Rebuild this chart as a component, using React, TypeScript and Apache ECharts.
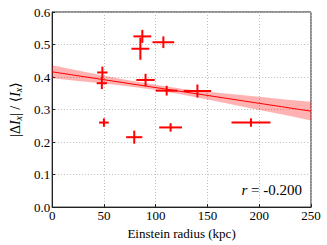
import React, { useEffect, useRef } from "react";
import * as echarts from "echarts";

const xVals = [48.5, 48.0, 50.0, 79.3, 87.1, 85.2, 107.4, 90.2, 110.6, 140.3, 114.4, 192.0];
const yVals = [0.414, 0.381, 0.26, 0.215, 0.525, 0.487, 0.507, 0.391, 0.358, 0.357, 0.245, 0.26];
const xErr = [5, 5, 4.7, 7.8, 8.6, 8.6, 10.5, 8.9, 10.5, 13.3, 11, 18.8];
const yErr = [0.018, 0.018, 0.013, 0.02, 0.02, 0.034, 0.018, 0.019, 0.015, 0.02, 0.013, 0.013];

// Fit line and its confidence band
const fitX = [0, 250];
const fitY = [0.416, 0.295];
const bandX = [0, 25, 50, 75, 100, 125, 150, 175, 200, 225, 250];
const bandLow = [0.396, 0.388, 0.38, 0.371, 0.36, 0.346, 0.331, 0.315, 0.299, 0.283, 0.266];
const bandHigh = [0.436, 0.42, 0.404, 0.389, 0.376, 0.364, 0.355, 0.347, 0.339, 0.331, 0.324];

const xTicks = { min: 0, max: 250, interval: 50 };
const yTicks = { min: 0, max: 0.6, interval: 0.1 };
const rText = "-0.200";

const FONT = "'Liberation Serif', 'DejaVu Serif', serif";

export default function App() {
  const ref = useRef<HTMLDivElement>(null);
  useEffect(() => {
    document.body.style.margin = "0";
    const chart = echarts.init(ref.current!, null, { renderer: "svg" });
    const pts = xVals.map((x, i) => [x, yVals[i], xErr[i], yErr[i]]);
    const option: any = {
      animation: false,
      backgroundColor: "#ffffff",
      textStyle: { fontFamily: FONT },
      grid: { left: 45, right: 16, top: 12, bottom: 35, show: true, borderColor: "#222", borderWidth: 1 },
      xAxis: {
        type: "value",
        min: xTicks.min,
        max: xTicks.max,
        interval: xTicks.interval,
        name: "Einstein radius (kpc)",
        nameLocation: "middle",
        nameGap: 16,
        nameTextStyle: { fontFamily: FONT, fontSize: 13, color: "#000" },
        axisLine: { show: true, lineStyle: { color: "#222", width: 1 } },
        axisTick: { show: true, inside: true, length: 3, lineStyle: { color: "#222" } },
        axisLabel: { fontFamily: FONT, fontSize: 13, color: "#000", margin: 2 },
        splitLine: { show: true, lineStyle: { color: "#bbb", type: [1, 2], width: 1 } },
      },
      yAxis: {
        type: "value",
        min: yTicks.min,
        max: yTicks.max,
        interval: yTicks.interval,
        name: "{a||Δ}{i|I}{s|x}{a|| / ⟨}{i|I}{s|x}{a|⟩}",
        nameLocation: "middle",
        nameGap: 27,
        nameRotate: 90,
        nameTextStyle: {
          fontFamily: FONT,
          fontSize: 14,
          color: "#000",
          rich: {
            a: { fontFamily: FONT, fontSize: 14, color: "#000" },
            i: { fontFamily: FONT, fontSize: 14, fontStyle: "italic", color: "#000" },
            s: { fontFamily: FONT, fontSize: 10, fontStyle: "italic", color: "#000", padding: [6, 0, 0, 0] },
          },
        },
        axisLine: { show: true, lineStyle: { color: "#222", width: 1 } },
        axisTick: { show: true, inside: true, length: 3, lineStyle: { color: "#222" } },
        axisLabel: { fontFamily: FONT, fontSize: 13, color: "#000", margin: 2, formatter: (v: number) => v.toFixed(1) },
        splitLine: { show: true, lineStyle: { color: "#bbb", type: [1, 2], width: 1 } },
      },
      series: [
        {
          type: "custom",
          z: 1,
          data: [[bandX[0], bandLow[0]]],
          renderItem: (params: any, api: any) => {
            const upper = bandX.map((x, i) => api.coord([x, bandHigh[i]]));
            const lower = bandX.map((x, i) => api.coord([x, bandLow[i]])).reverse();
            return {
              type: "polygon",
              shape: { points: upper.concat(lower) },
              style: { fill: "rgba(255,0,0,0.3)", stroke: "none" },
            };
          },
          silent: true,
        },
        {
          type: "line",
          z: 2,
          data: fitX.map((x, i) => [x, fitY[i]]),
          symbol: "none",
          lineStyle: { color: "#ff0000", width: 1 },
          silent: true,
        },
        {
          type: "custom",
          z: 3,
          dimensions: ["x", "y", "xe", "ye"],
          encode: { x: 0, y: 1 },
          data: pts,
          renderItem: (params: any, api: any) => {
            const x = api.value(0), y = api.value(1), xe = api.value(2), ye = api.value(3);
            const l = api.coord([x - xe, y]);
            const r = api.coord([x + xe, y]);
            const t = api.coord([x, y + ye]);
            const b = api.coord([x, y - ye]);
            const st = { stroke: "#ff0000", lineWidth: 2 };
            return {
              type: "group",
              children: [
                { type: "line", shape: { x1: l[0], y1: l[1], x2: r[0], y2: r[1] }, style: st },
                { type: "line", shape: { x1: t[0], y1: t[1], x2: b[0], y2: b[1] }, style: st },
              ],
            };
          },
        },
      ],
      graphic: [
        {
          type: "text",
          right: 25,
          top: 182,
          style: {
            text: "{i|r} = " + rText,
            fontFamily: FONT,
            fontSize: 15,
            fill: "#000",
            rich: {
              i: { fontFamily: FONT, fontSize: 15, fontStyle: "italic", fill: "#000" },
            },
          },
        },
      ],
    };
    chart.setOption(option);
    return () => chart.dispose();
  }, []);
  return <div ref={ref} style={{ position: "absolute", left: 0, top: 0, width: 327, height: 245 }} />;
}
